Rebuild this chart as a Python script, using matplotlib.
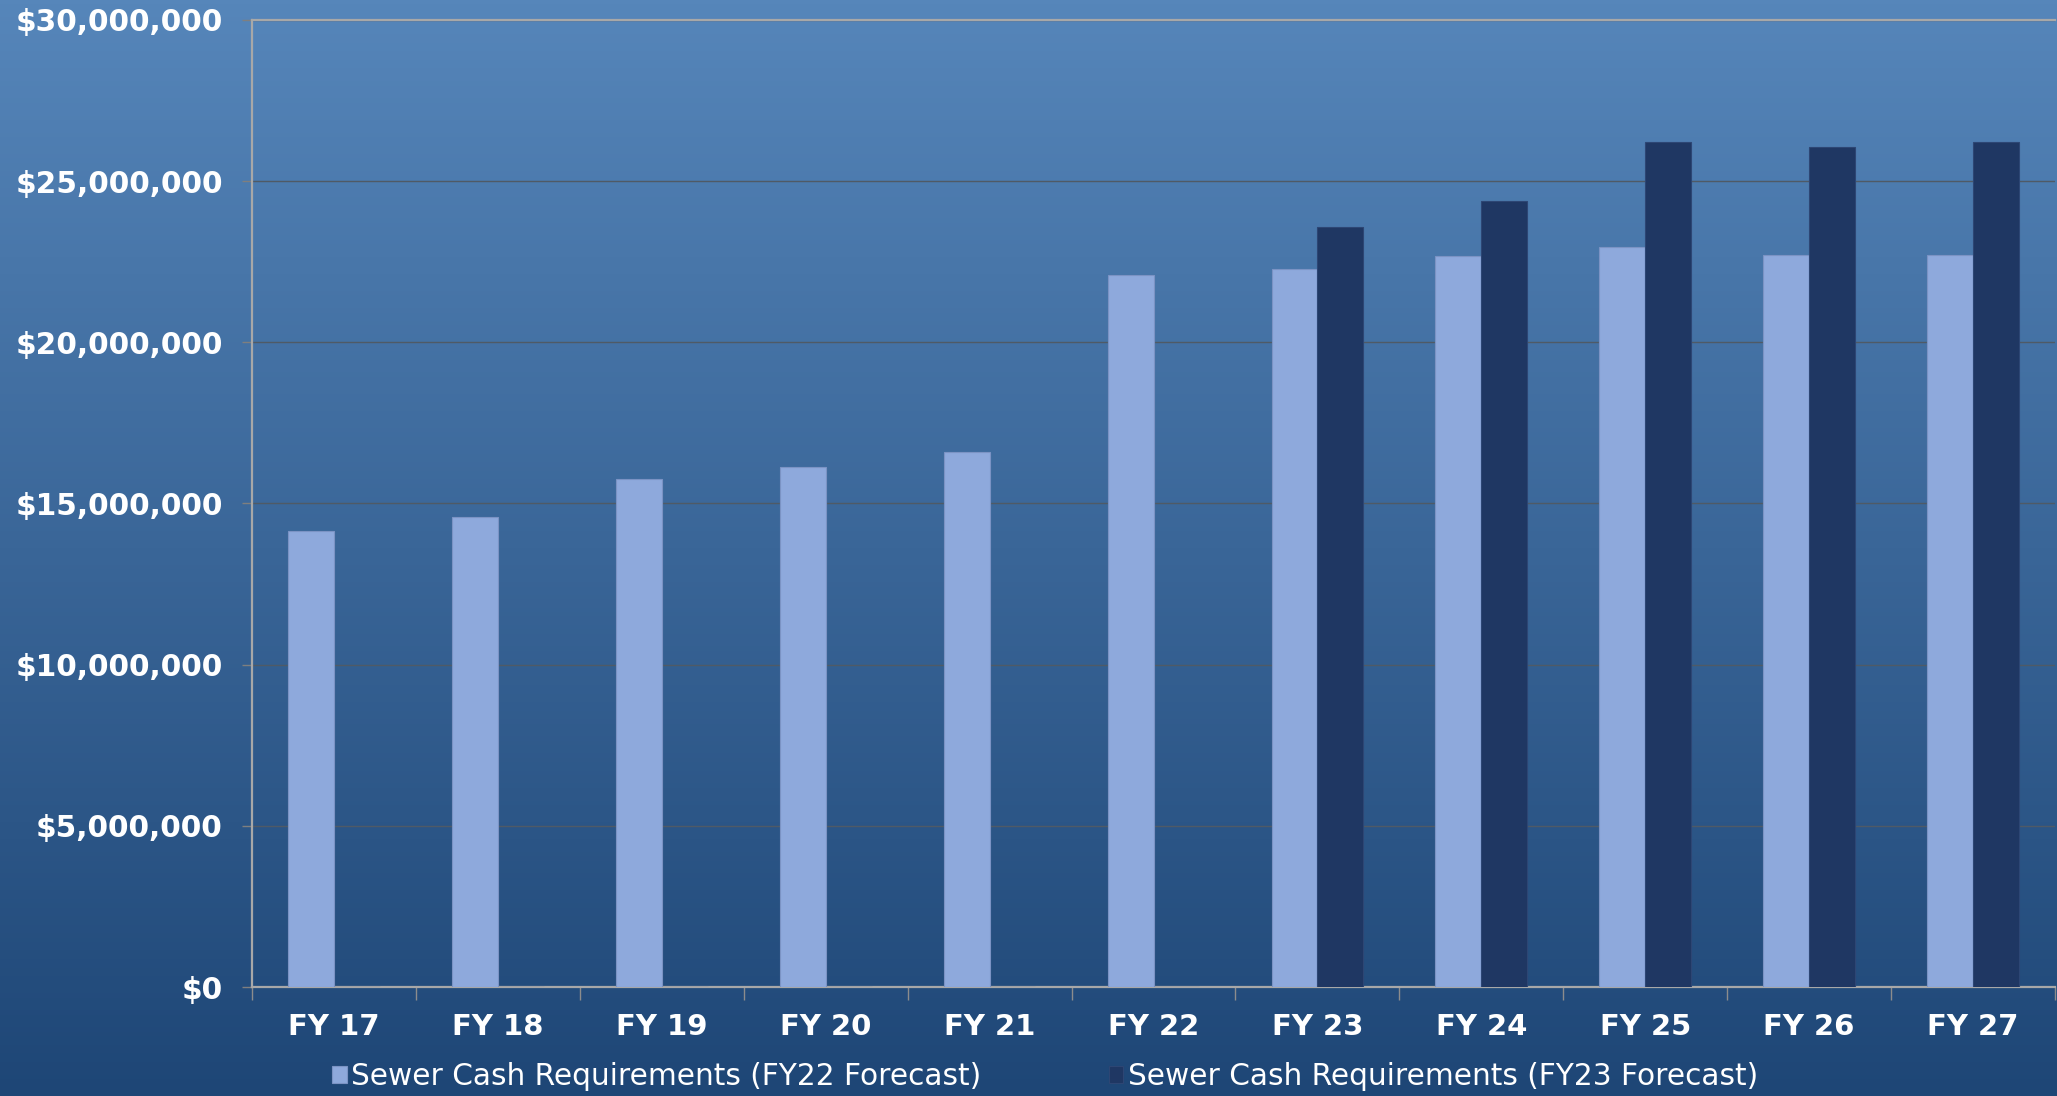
import numpy as np
import matplotlib
matplotlib.use("Agg")
import matplotlib.pyplot as plt
from matplotlib.ticker import FuncFormatter, MultipleLocator

# values (dollars)
years = ["FY 17", "FY 18", "FY 19", "FY 20", "FY 21", "FY 22",
         "FY 23", "FY 24", "FY 25", "FY 26", "FY 27"]
fy22_forecast = [14.16e6, 14.57e6, 15.75e6, 16.12e6, 16.60e6, 22.10e6,
                 22.27e6, 22.69e6, 22.96e6, 22.71e6, 22.71e6]
fy23_forecast = [0, 0, 0, 0, 0, 0,
                 23.57e6, 24.40e6, 26.22e6, 26.07e6, 26.22e6]
series_names = ["Sewer Cash Requirements (FY22 Forecast)",
                "Sewer Cash Requirements (FY23 Forecast)"]

light = "#8EA9DC"
dark = "#1F3763"

plt.rcParams['font.family'] = ['DejaVu Sans']

fig = plt.figure(figsize=(20.57, 10.96), dpi=100)

# gradient background over the whole figure
bg = fig.add_axes([0, 0, 1, 1], zorder=-10)
top_c = np.array([86, 134, 186]) / 255
bot_c = np.array([30, 70, 118]) / 255
t = np.linspace(0, 1, 256)[:, None]
grad = top_c[None, :] * (1 - t) + bot_c[None, :] * t
bg.imshow(grad[:, None, :], aspect="auto", extent=[0, 1, 0, 1])
bg.axis("off")

ax = fig.add_axes([252 / 2057, 109 / 1096, 1803 / 2057, 967 / 1096])
ax.patch.set_alpha(0)

x = np.arange(len(years))
w = 0.28
ax.bar(x - w / 2, fy22_forecast, w, color=light, edgecolor="#7B93C4",
       linewidth=0.8, label=series_names[0], zorder=3)
ax.bar(x + w / 2, fy23_forecast, w, color=dark, edgecolor="#2D4674",
       linewidth=0.8, label=series_names[1], zorder=3)

ax.set_xlim(-0.5, len(years) - 0.5)
ax.set_ylim(0, 30e6)
ax.yaxis.set_major_locator(MultipleLocator(5e6))
ax.yaxis.set_major_formatter(FuncFormatter(lambda v, p: "${:,.0f}".format(v)))
ax.grid(axis="y", color="#4F5A66", linewidth=1.0, zorder=1)

ax.set_xticks(x)
ax.set_xticklabels(years)
ax.set_xticks(np.arange(-0.5, len(years), 1.0), minor=True)
ax.tick_params(axis="x", which="major", length=0, pad=19,
               labelsize=21, labelcolor="white")
ax.tick_params(axis="x", which="minor", length=9, width=1, color="#8C8C8C",
               direction="out")
ax.tick_params(axis="y", length=7, width=1, color="#7F7F7F", pad=14,
               labelsize=21.3, labelcolor="white")
for lab in ax.get_xticklabels() + ax.get_yticklabels():
    lab.set_fontweight("bold")

for side in ["left", "top", "bottom"]:
    ax.spines[side].set_color("#A8A8A8")
    ax.spines[side].set_linewidth(1.6)
ax.spines["right"].set_visible(False)

leg = fig.legend(loc="lower center", bbox_to_anchor=(0.508, -0.02), ncol=2,
                 frameon=False, fontsize=21.3, handlelength=0.5,
                 handleheight=0.5, handletextpad=0.15, columnspacing=4.3)
for txt in leg.get_texts():
    txt.set_color("white")

fig.savefig("out.png", dpi=100)
